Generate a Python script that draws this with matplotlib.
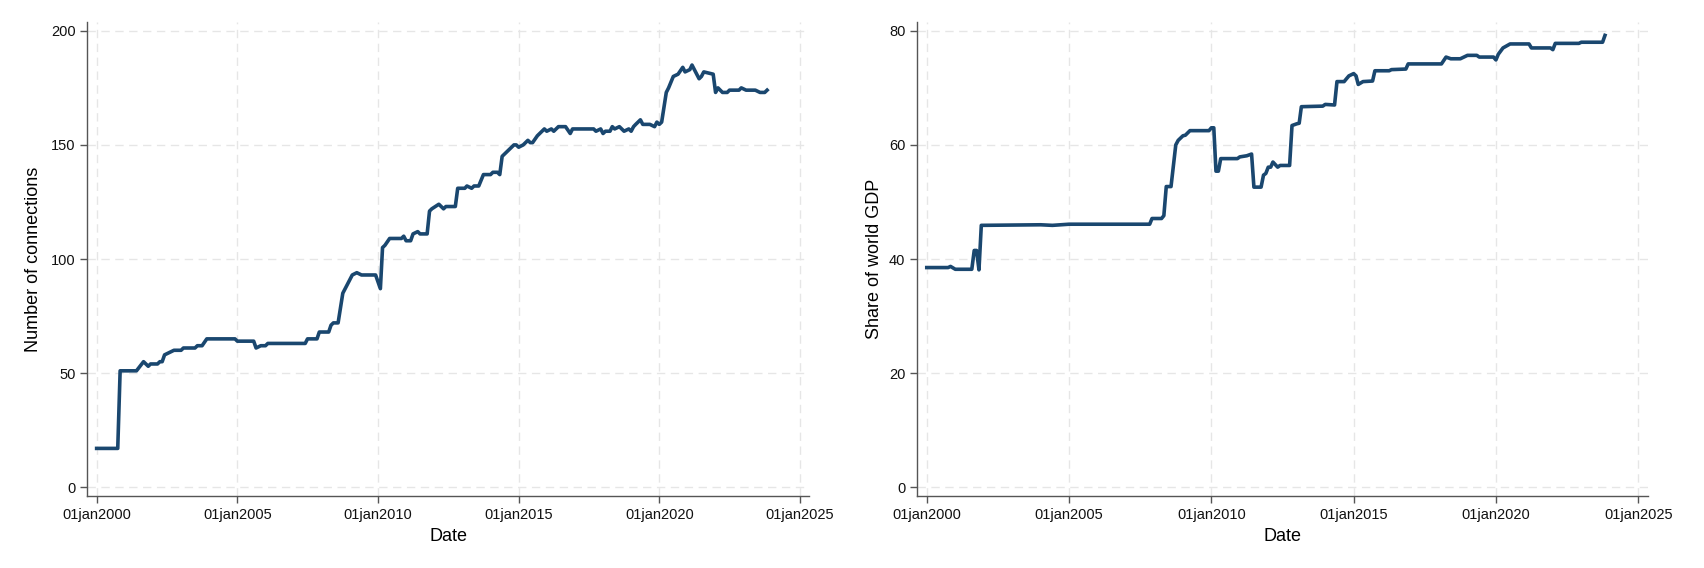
import matplotlib.pyplot as plt
import numpy as np

plt.rcParams['font.family'] = ['Liberation Sans', 'DejaVu Sans']

# Number of connections (vertices of the monthly series)
conn_dates = ["2000-01", "2000-10", "2000-11", "2001-06", "2001-09", "2001-11", "2001-12",
              "2002-03", "2002-04", "2002-05", "2002-06", "2002-08", "2002-10", "2003-01",
              "2003-02", "2003-07", "2003-08", "2003-10", "2003-12", "2004-12", "2005-01",
              "2005-08", "2005-09", "2005-11", "2006-01", "2006-02", "2007-06", "2007-07",
              "2007-11", "2007-12", "2008-04", "2008-05", "2008-06", "2008-08", "2008-10",
              "2008-12", "2009-01", "2009-02", "2009-04", "2009-06", "2009-12", "2010-02",
              "2010-03", "2010-04", "2010-06", "2010-11", "2010-12", "2011-01", "2011-03",
              "2011-04", "2011-06", "2011-07", "2011-10", "2011-11", "2011-12", "2012-03",
              "2012-05", "2012-06", "2012-10", "2012-11", "2013-02", "2013-03", "2013-05",
              "2013-06", "2013-08", "2013-10", "2014-01", "2014-02", "2014-04", "2014-05",
              "2014-06", "2014-08", "2014-09", "2014-11", "2014-12", "2015-01", "2015-03",
              "2015-05", "2015-06", "2015-07", "2015-09", "2015-10", "2015-12", "2016-01",
              "2016-03", "2016-04", "2016-06", "2016-09", "2016-11", "2016-12", "2017-09",
              "2017-10", "2017-12", "2018-01", "2018-02", "2018-04", "2018-05", "2018-06",
              "2018-08", "2018-10", "2018-12", "2019-01", "2019-02", "2019-03", "2019-05",
              "2019-06", "2019-09", "2019-11", "2019-12", "2020-01", "2020-02", "2020-04",
              "2020-05", "2020-07", "2020-09", "2020-11", "2020-12", "2021-02", "2021-03",
              "2021-04", "2021-06", "2021-07", "2021-08", "2021-12", "2022-01", "2022-02",
              "2022-04", "2022-06", "2022-07", "2022-11", "2022-12", "2023-02", "2023-06",
              "2023-08", "2023-10", "2023-11"]
conn_values = [17, 17, 51, 51, 55, 53, 54,
               54, 55, 55, 58, 59, 60, 60,
               61, 61, 62, 62, 65, 65, 64,
               64, 61, 62, 62, 63, 63, 65,
               65, 68, 68, 71, 72, 72, 85,
               89, 91, 93, 94, 93, 93, 87,
               105, 106, 109, 109, 110, 108, 108,
               111, 112, 111, 111, 121, 122, 124,
               122, 123, 123, 131, 131, 132, 131,
               132, 132, 137, 137, 138, 138, 137,
               145, 147, 148, 150, 150, 149, 150,
               152, 151, 151, 154, 155, 157, 156,
               157, 156, 158, 158, 155, 157, 157,
               156, 157, 155, 156, 156, 158, 157,
               158, 156, 157, 156, 158, 159, 161,
               159, 159, 158, 160, 159, 160, 173,
               175, 180, 181, 184, 182, 183, 185,
               183, 179, 180, 182, 181, 173, 175,
               173, 173, 174, 174, 175, 174, 174,
               173, 173, 174]

# Share of world GDP (vertices of the monthly series)
gdp_dates = ["2000-01", "2000-10", "2000-11", "2001-01", "2001-08", "2001-09", "2001-10",
             "2001-11", "2001-12", "2004-01", "2004-06", "2005-01", "2007-11", "2007-12",
             "2008-04", "2008-05", "2008-06", "2008-08", "2008-10", "2008-11", "2009-01",
             "2009-02", "2009-04", "2009-12", "2010-01", "2010-02", "2010-03", "2010-04",
             "2010-05", "2010-12", "2011-01", "2011-04", "2011-06", "2011-07", "2011-10",
             "2011-11", "2011-12", "2012-01", "2012-02", "2012-03", "2012-05", "2012-06",
             "2012-10", "2012-11", "2013-01", "2013-02", "2013-03", "2013-12", "2014-01",
             "2014-05", "2014-06", "2014-09", "2014-10", "2014-11", "2015-01", "2015-02",
             "2015-03", "2015-05", "2015-09", "2015-10", "2016-04", "2016-05", "2016-11",
             "2016-12", "2018-02", "2018-04", "2018-06", "2018-10", "2019-01", "2019-05",
             "2019-06", "2019-12", "2020-01", "2020-02", "2020-04", "2020-07", "2021-03",
             "2021-04", "2021-12", "2022-01", "2022-02", "2022-12", "2023-01", "2023-10",
             "2023-11"]
gdp_values = [38.5, 38.5, 38.7, 38.2, 38.2, 41.5, 41.5,
              38.1, 45.9, 46.0, 45.9, 46.1, 46.1, 47.1,
              47.1, 47.6, 52.7, 52.7, 60.0, 60.8, 61.6,
              61.7, 62.5, 62.5, 63.0, 63.0, 55.4, 55.4,
              57.6, 57.6, 57.9, 58.1, 58.4, 52.6, 52.6,
              54.7, 55.0, 56.1, 56.1, 57.0, 56.1, 56.4,
              56.4, 63.4, 63.7, 63.8, 66.7, 66.8, 67.1,
              67.0, 71.1, 71.1, 71.6, 72.1, 72.5, 72.1,
              70.6, 71.1, 71.2, 73.0, 73.0, 73.2, 73.3,
              74.2, 74.2, 75.4, 75.1, 75.1, 75.7, 75.7,
              75.4, 75.4, 74.9, 75.9, 77.0, 77.7, 77.7,
              77.0, 77.0, 76.7, 77.8, 77.8, 78.0, 78.0,
              79.2]

tick_years = [2000, 2005, 2010, 2015, 2020, 2025]

line_color = "#1a476f"
grid_color = "#e6e6e6"
axis_color = "#555555"


def draw_panel(ax, dates, values, ylabel, yticks, ylim, ypad):
    x = np.array([d + "-01" for d in dates], dtype="datetime64[D]")
    ax.plot(x, values, color=line_color, lw=2.6, solid_joinstyle="round")

    xt = np.array(["%d-01-01" % y for y in tick_years], dtype="datetime64[D]")
    ax.set_xticks(xt)
    ax.set_xticklabels(["01jan%d" % y for y in tick_years])
    ax.set_xlim(np.datetime64("1999-09-01"), np.datetime64("2025-05-01"))
    ax.set_yticks(yticks)
    ax.set_ylim(*ylim)

    ax.grid(True, color=grid_color, linestyle=(0, (6, 4)), lw=1.0)
    ax.set_axisbelow(True)
    for s in ["top", "right"]:
        ax.spines[s].set_visible(False)
    for s in ["left", "bottom"]:
        ax.spines[s].set_color(axis_color)
        ax.spines[s].set_linewidth(1.0)
    ax.tick_params(axis="both", direction="out", length=5, width=1.0,
                   color=axis_color, labelsize=10.5, labelcolor="#111111")
    ax.set_xlabel("Date", fontsize=13, labelpad=4.5)
    ax.set_ylabel(ylabel, fontsize=13, labelpad=ypad)


fig = plt.figure(figsize=(17.04, 5.68), dpi=100)
ax1 = fig.add_axes([0.0512, 0.1262, 0.4237, 0.8356])
ax2 = fig.add_axes([0.5383, 0.1262, 0.4286, 0.8356])

draw_panel(ax1, conn_dates, conn_values, "Number of connections",
           [0, 50, 100, 150, 200], (-4, 204), 6)
draw_panel(ax2, gdp_dates, gdp_values, "Share of world GDP",
           [0, 20, 40, 60, 80], (-1.6, 81.6), 4.5)

fig.savefig("out.png", dpi=100)
